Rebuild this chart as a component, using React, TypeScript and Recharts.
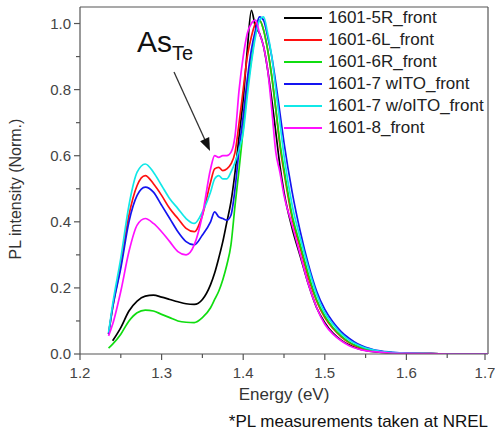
import React from "react";
import { LineChart, Line, XAxis, YAxis, Legend, ReferenceLine } from "recharts";

// photon energy grid (eV)
const energy = [
  1.235, 1.24, 1.25, 1.26, 1.27, 1.28, 1.29, 1.3, 1.31, 1.32, 1.33, 1.34, 1.35, 1.36,
  1.365, 1.37, 1.375, 1.38, 1.385, 1.39, 1.395, 1.4, 1.405, 1.41, 1.415, 1.42, 1.425,
  1.43, 1.435, 1.44, 1.445, 1.45, 1.46, 1.47, 1.48, 1.49, 1.5, 1.51, 1.52, 1.53, 1.54,
  1.55, 1.56, 1.58, 1.6, 1.63, 1.66, 1.7,
];

const front5R = [
  null, 0.04, 0.08, 0.13, 0.16, 0.175, 0.178, 0.172, 0.165, 0.158, 0.152, 0.15, 0.165, 0.21,
  0.245, 0.29, 0.34, 0.4, 0.46, 0.55, 0.66, 0.77, 0.92, 1.04, 0.99, 0.97, 0.93,
  0.86, 0.77, 0.67, 0.57, 0.49, 0.38, 0.295, 0.21, 0.14, 0.095, 0.063, 0.042, 0.027, 0.017,
  0.011, 0.007, 0.003, 0.002, 0.001, 0, 0,
];
const front6L = [
  0.06, 0.14, 0.27, 0.42, 0.51, 0.54, 0.515, 0.48, 0.44, 0.41, 0.38, 0.37, 0.42, 0.52,
  0.56, 0.565, 0.555, 0.56, 0.575, 0.61, 0.7, 0.8, 0.9, 0.96, 1.0, 1.01, 0.98,
  0.92, 0.84, 0.74, 0.63, 0.55, 0.41, 0.32, 0.23, 0.16, 0.11, 0.077, 0.052, 0.034, 0.022,
  0.014, 0.009, 0.004, 0.002, 0.001, 0, 0,
];
const front6R = [
  0.018, 0.03, 0.06, 0.1, 0.125, 0.133, 0.13, 0.12, 0.11, 0.1, 0.096, 0.095, 0.11, 0.14,
  0.165, 0.19, 0.225, 0.27, 0.33, 0.45, 0.56, 0.68, 0.8, 0.89, 0.97, 1.01, 0.98,
  0.92, 0.84, 0.74, 0.64, 0.56, 0.42, 0.33, 0.24, 0.165, 0.115, 0.08, 0.055, 0.036, 0.024,
  0.015, 0.01, 0.004, 0.002, 0.001, 0, 0,
];
const front7wITO = [
  0.06, 0.14, 0.26, 0.4, 0.48, 0.505, 0.49, 0.45, 0.41, 0.37, 0.34, 0.33, 0.36, 0.4,
  0.43, 0.415, 0.41, 0.405, 0.42, 0.5, 0.62, 0.72, 0.83, 0.92, 0.98, 1.02, 1.01,
  0.96, 0.9, 0.82, 0.73, 0.64, 0.49, 0.37, 0.27, 0.19, 0.135, 0.097, 0.068, 0.047, 0.031,
  0.02, 0.013, 0.006, 0.003, 0.001, 0, 0,
];
const front7woITO = [
  0.065, 0.15, 0.29, 0.45, 0.55, 0.575, 0.55, 0.51, 0.47, 0.44, 0.41, 0.395, 0.43, 0.49,
  0.53, 0.54, 0.53, 0.53, 0.55, 0.58, 0.62, 0.67, 0.78, 0.88, 0.96, 1.01, 1.02,
  0.97, 0.9, 0.8, 0.7, 0.6, 0.45, 0.35, 0.26, 0.18, 0.125, 0.09, 0.062, 0.042, 0.028,
  0.018, 0.012, 0.005, 0.003, 0.001, 0, 0,
];
const front8 = [
  0.055, 0.09, 0.19, 0.31, 0.39, 0.41, 0.395, 0.37, 0.34, 0.31, 0.3, 0.33, 0.42, 0.56,
  0.6, 0.595, 0.6, 0.6, 0.61, 0.66, 0.8, 0.9, 0.97, 1.0, 1.01, 0.97, 0.93,
  0.86, 0.74, 0.61, 0.55, 0.48, 0.39, 0.3, 0.21, 0.14, 0.09, 0.06, 0.04, 0.025, 0.016,
  0.01, 0.007, 0.003, 0.002, 0.001, 0, 0,
];

const xMajor = [1.2, 1.3, 1.4, 1.5, 1.6, 1.7];
const xMinor = [1.25, 1.35, 1.45, 1.55, 1.65];
const yMajor = [0, 0.2, 0.4, 0.6, 0.8, 1.0];
const yMinor = [0.1, 0.3, 0.5, 0.7, 0.9];

const series = [
  { key: "s5R", name: "1601-5R_front", color: "#000000", values: front5R },
  { key: "s6L", name: "1601-6L_front", color: "#ff1010", values: front6L },
  { key: "s6R", name: "1601-6R_front", color: "#10dd10", values: front6R },
  { key: "s7w", name: "1601-7 wITO_front", color: "#1414f0", values: front7wITO },
  { key: "s7wo", name: "1601-7 w/oITO_front", color: "#10e8e8", values: front7woITO },
  { key: "s8", name: "1601-8_front", color: "#ff10ff", values: front8 },
];

const data = energy.map((e, i) => {
  const row: Record<string, number | null> = { energy: e };
  series.forEach((s) => (row[s.key] = s.values[i]));
  return row;
});

const FONT = "'Liberation Sans', Arial, sans-serif";
const AXIS = "#555";

const isMajor = (v: number, list: number[]) => list.some((m) => Math.abs(m - v) < 1e-6);

const YTick = (props: any) => {
  const { x, y, payload } = props;
  const major = isMajor(payload.value, yMajor);
  return (
    <g>
      <line x1={x} x2={x - (major ? 6 : 4)} y1={y} y2={y} stroke={AXIS} strokeWidth={1.2} />
      {major && (
        <text x={x - 9} y={y} dy={5} textAnchor="end" fontSize={15} fill="#444" fontFamily={FONT}>
          {payload.value.toFixed(1)}
        </text>
      )}
    </g>
  );
};

const XTick = (props: any) => {
  const { x, y, payload } = props;
  const major = isMajor(payload.value, xMajor);
  return (
    <g>
      <line x1={x} x2={x} y1={y} y2={y + (major ? 6 : 4)} stroke={AXIS} strokeWidth={1.2} />
      {major && (
        <text x={x} y={y + 24} textAnchor="middle" fontSize={15} fill="#444" fontFamily={FONT}>
          {payload.value.toFixed(1)}
        </text>
      )}
    </g>
  );
};

const order = series.map((s) => s.name);

const LegendBox = (props: any) => {
  const items = [...(props.payload || [])].sort(
    (a: any, b: any) => order.indexOf(a.value) - order.indexOf(b.value)
  );
  return (
    <div style={{ fontFamily: FONT, fontSize: 17, color: "#222" }}>
      {items.map((it: any) => (
        <div key={it.value} style={{ display: "flex", alignItems: "center", height: 22 }}>
          <span style={{ display: "inline-block", width: 38, height: 2, background: it.color, marginRight: 6 }} />
          <span>{it.value}</span>
        </div>
      ))}
    </div>
  );
};

export default function App() {
  return (
    <div style={{ position: "absolute", left: 0, top: 0, width: 495, height: 438, background: "#fff" }}>
      <LineChart width={495} height={438} data={data} margin={{ top: 7, right: 7, left: 0, bottom: 54 }}>
        <XAxis
          dataKey="energy"
          type="number"
          domain={[1.2, 1.7]}
          ticks={[...xMajor, ...xMinor].sort((a, b) => a - b)}
          allowDataOverflow
          height={30}
          tickSize={0}
          tickMargin={0}
          tickLine={false}
          tick={<XTick />}
          stroke={AXIS}
          strokeWidth={1.2}
        />
        <YAxis
          type="number"
          domain={[0, 1.05]}
          ticks={[...yMajor, ...yMinor].sort((a, b) => a - b)}
          allowDataOverflow
          width={80}
          tickSize={0}
          tickMargin={0}
          tickLine={false}
          tick={<YTick />}
          stroke={AXIS}
          strokeWidth={1.2}
        />
        <ReferenceLine y={1.05} stroke={AXIS} strokeWidth={1.2} />
        <ReferenceLine x={1.7} stroke={AXIS} strokeWidth={1.2} />
        <Legend
          layout="vertical"
          verticalAlign="middle"
          align="center"
          content={<LegendBox />}
          wrapperStyle={{ position: "absolute", left: 284, top: 7, width: 205 }}
        />
        {series.map((s) => (
          <Line
            key={s.key}
            dataKey={s.key}
            name={s.name}
            stroke={s.color}
            strokeWidth={1.7}
            dot={false}
            type="monotone"
            isAnimationActive={false}
          />
        ))}
      </LineChart>
      <svg width={495} height={438} style={{ position: "absolute", left: 0, top: 0, pointerEvents: "none" }}>
        <text x={137} y={52} fontSize={30} fontFamily={FONT} fill="#111">
          As<tspan fontSize={20} dy={8}>Te</tspan>
        </text>
        <line x1={174} y1={72} x2={205} y2={140} stroke="#333" strokeWidth={1.3} />
        <polygon points="210,151 209.2,137.1 200.1,141.3" fill="#111" />
        <text x={21} y={189} transform="rotate(-90 21 189)" textAnchor="middle" fontSize={16} fontFamily={FONT} fill="#333">
          PL intensity (Norm.)
        </text>
        <text x={284} y={400} textAnchor="middle" fontSize={17} fontFamily={FONT} fill="#333">
          Energy (eV)
        </text>
        <text x={488} y={427} textAnchor="end" fontSize={17} fontFamily={FONT} fill="#111">
          *PL measurements taken at NREL
        </text>
      </svg>
    </div>
  );
}
